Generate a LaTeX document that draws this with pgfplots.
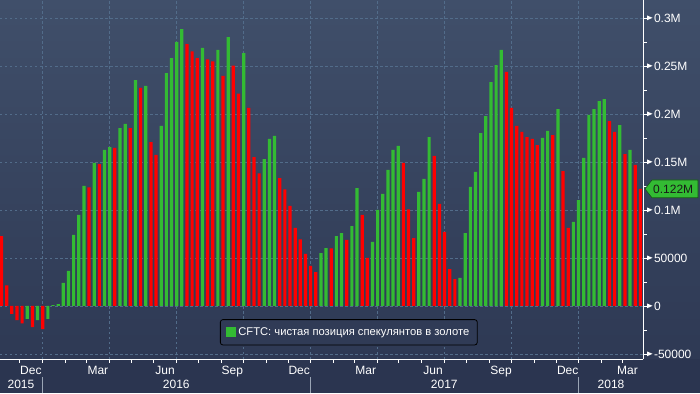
\documentclass[border=0pt]{standalone}
\usepackage{pgfplots}
\pgfplotsset{compat=1.18}
\usepackage{fontspec}
\setmainfont{Liberation Sans}
\definecolor{bgtop}{HTML}{404F6A}
\definecolor{bgbot}{HTML}{2E3954}
\definecolor{band}{HTML}{2B3550}
\definecolor{gridc}{HTML}{526C8A}
\definecolor{barg}{HTML}{33BB33}
\definecolor{barr}{HTML}{FF0000}
\definecolor{legbg}{HTML}{303B56}
\definecolor{sepc}{HTML}{9AA5B5}
\newcommand\tri{\tikz[baseline={(0,-4.3pt)}]\fill[white] (0,-2.4pt)--(5.5pt,0)--(0,2.4pt)--cycle;\hspace{1.5pt}}
\begin{document}
\begin{tikzpicture}
\path[use as bounding box] (0,0) rectangle (700pt,393pt);
\shade[top color=bgtop, bottom color=bgbot] (0,34pt) rectangle (700pt,393pt);
\fill[band] (0,0) rectangle (700pt,34pt);
\begin{axis}[
  at={(0pt,34pt)}, anchor=south west,
  width=643.3pt, height=359pt, scale only axis,
  xmin=0.709, xmax=125.57, ymin=-55208, ymax=318750,
  axis x line*=bottom, axis y line*=right,
  axis line style={white, line width=0.8pt},
  tick align=outside, major tick length=3.5pt, minor tick length=3.5pt,
  tick style={white, line width=0.8pt},
  xtick={8.92,21.92,34.93,47.93,60.94,73.94,86.95,100.03,113.03},
  xticklabels={,,,,,,,,},
  minor xtick={4.50,13.34,17.47,26.16,30.56,39.26,43.68,52.36,56.63,65.46,69.46,78.13,82.56,91.24,95.66,104.36,108.63,117.46,121.44},
  extra x ticks={6.71,19.70,32.75,45.81,58.79,71.70,84.76,97.95,110.9,122.5},
  extra x tick labels={Dec,Mar,Jun,Sep,Dec,Mar,Jun,Sep,Dec,Mar},
  extra x tick style={major tick length=0pt, grid=none, xticklabel style={anchor=base, inner sep=0pt, yshift=-15.5pt}},
  ytick={-50000,0,50000,100000,150000,200000,250000,300000},
  yticklabels={\tri-50000,\tri 0,\tri 50000,\tri 0.1M,\tri 0.15M,\tri 0.2M,\tri 0.25M,\tri 0.3M},
  minor y tick num=1,
  yticklabel style={anchor=west, inner sep=0pt},
  tick label style={font=\fontsize{12}{14}\selectfont, text=white},
  xmajorgrids, ymajorgrids,
  major grid style={gridc, dash pattern=on 2.5pt off 2.5pt, line width=0.7pt},
  legend style={at={(0.5422,0.0744)}, anchor=center, fill=legbg, draw=black, line width=0.8pt, rounded corners=2.5pt, text=white, font=\fontsize{11.2}{13}\selectfont, inner xsep=6pt, inner ysep=6pt},
  legend image code/.code={\fill[#1,draw=none,sharp corners] (0pt,-5pt) rectangle (10pt,5pt);},
]
\addplot[ybar, bar width=3.2pt, bar shift=0pt, fill=barg, draw=none] coordinates {
(6,-13500) (8,-14600) (10,-13500) (11,1000) (12,2000) (13,24000) (14,36500) (15,74000) (16,94800) (17,125000)
(19,149000) (21,162500) (22,165600) (24,185400) (25,189600) (27,235400) (29,229200) (32,187500) (33,242700) (34,258300)
(35,275000) (36,288500) (40,268800) (43,266700) (45,280200) (48,263500) (52,153100) (53,174000) (54,177100) (63,55200)
(64,60400) (66,72900) (67,76000) (69,83300) (70,122900) (73,66700) (74,100000) (75,116700) (76,141700) (77,162500)
(78,166700) (82,118750) (83,132300) (84,176000) (90,29200) (91,76000) (92,124000) (93,139600) (94,180200) (95,197900)
(96,233300) (97,251000) (98,266700) (106,175000) (107,182300) (109,205200) (112,87500) (113,110400) (114,154200) (115,199000)
(116,205200) (117,213500) (118,215600) (121,188500) (123,162500)
};
\addlegendentry{CFTC: чистая позиция спекулянтов в золоте}
\addplot[ybar, bar width=3.2pt, bar shift=0pt, fill=barr, draw=none, forget plot] coordinates {
(1,72900) (2,21500) (3,-8300) (4,-14600) (5,-18000) (7,-21900) (9,-24000) (18,123600) (20,147900) (23,164600)
(26,185400) (28,227100) (30,170800) (31,157300) (37,272900) (38,265300) (39,258300) (41,256900) (42,254900) (44,239600)
(46,250300) (47,221200) (49,206300) (50,155200) (51,138200) (55,133300) (56,121500) (57,104200) (58,81250) (59,69400)
(60,54200) (61,41700) (62,35400) (65,60000) (68,68750) (71,94800) (72,50000) (79,149000) (80,100700) (81,70800)
(85,156250) (86,106250) (87,77100) (88,38500) (89,28100) (99,243750) (100,206250) (101,187500) (102,181250) (103,176000)
(104,174000) (105,167700) (108,178100) (110,140600) (111,81250) (119,192700) (120,181250) (122,158300) (124,146900) (125,122000)
};
\end{axis}
\foreach \xx in {42.3,310.3,578.3} {\draw[sepc, line width=0.8pt] (\xx pt,0) -- (\xx pt,16.5pt);}
\begin{scope}[every node/.style={anchor=base, inner sep=0pt, text=white, font=\fontsize{12}{14}\selectfont}]
\node at (21pt,4.5pt) {2015};
\node at (176.3pt,4.5pt) {2016};
\node at (444.3pt,4.5pt) {2017};
\node at (611pt,4.5pt) {2018};
\end{scope}
\filldraw[fill=barg, draw=black!55!barg, line width=0.6pt] (645pt,204.1pt) -- (652pt,213pt) -- (698pt,213pt) -- (698pt,195.2pt) -- (652pt,195.2pt) -- cycle;
\node[anchor=west, inner sep=0pt, text=black!90, font=\fontsize{12}{14}\selectfont] at (653pt,204.1pt) {0.122M};
\end{tikzpicture}
\end{document}
